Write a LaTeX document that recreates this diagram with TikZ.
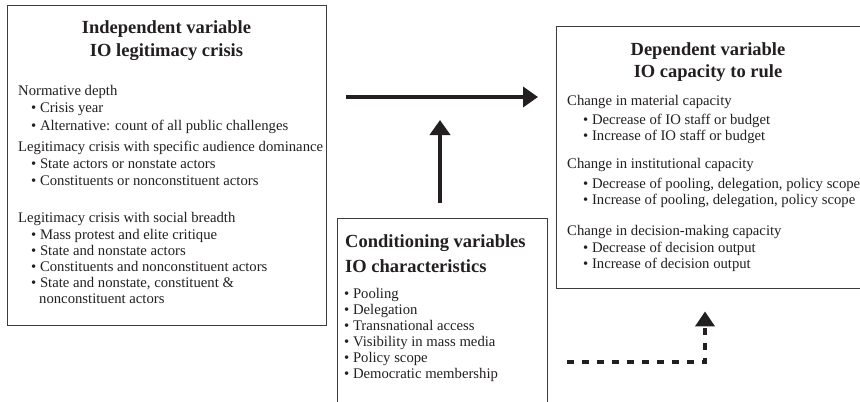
\documentclass[tikz,border=0pt]{standalone}
\usepackage{fontspec}
\setmainfont{Liberation Serif}
\usetikzlibrary{arrows.meta}
\definecolor{boxc}{HTML}{3C3C3C}
\definecolor{ink}{HTML}{231F20}
\begin{document}
\begin{tikzpicture}[x=1bp,y=-1bp,
  box/.style={draw=boxc,line width=1.4bp,inner sep=0pt,anchor=north west},
  hd/.style={font=\fontsize{18.5bp}{22bp}\selectfont\bfseries,anchor=base,inner sep=0pt,text=ink},
  hdl/.style={hd,anchor=base west},
  tx/.style={font=\fontsize{14.7bp}{17bp}\selectfont,anchor=base west,inner sep=0pt,text=ink},
  arr/.style={draw=ink,line width=4bp,-{Triangle[length=15bp,width=20bp]}},
  darr/.style={draw=ink,line width=4.5bp,dash pattern=on 7bp off 8bp,-{Triangle[length=15bp,width=19bp]}},
]
\useasboundingbox (0,0) rectangle (860,401);
% boxes
\node[box,minimum width=319bp,minimum height=320bp] (indep) at (7,5) {};
\node[box,minimum width=320bp,minimum height=262bp] (dep) at (556,26) {};
\node[box,minimum width=210bp,minimum height=200bp] (cond) at (337,218) {};
% left box text
\node[hd] (l1) at (166.5,33) {Independent variable};
\node[hd] (l2) at (166.5,56) {IO legitimacy crisis};
\node[tx] (l3) at (18,95) {Normative depth};
\node[tx] (l4) at (31,112.5) {• Crisis year};
\node[tx] (l5) at (31,130) {• Alternative: count of all public challenges};
\node[tx] (l6) at (18,151) {Legitimacy crisis with specific audience dominance};
\node[tx] (l7) at (31,168) {• State actors or nonstate actors};
\node[tx] (l8) at (31,185) {• Constituents or nonconstituent actors};
\node[tx] (l9) at (18,222) {Legitimacy crisis with social breadth};
\node[tx] (l10) at (31,239) {• Mass protest and elite critique};
\node[tx] (l11) at (31,255) {• State and nonstate actors};
\node[tx] (l12) at (31,271) {• Constituents and nonconstituent actors};
\node[tx] (l13) at (31,287) {• State and nonstate, constituent \&};
\node[tx] (l14) at (39,303) {nonconstituent actors};
% right box text
\node[hd] (r1) at (708,55) {Dependent variable};
\node[hd] (r2) at (708,77) {IO capacity to rule};
\node[tx] (r3) at (567,105) {Change in material capacity};
\node[tx] (r4) at (583,124) {• Decrease of IO staff or budget};
\node[tx] (r5) at (583,140) {• Increase of IO staff or budget};
\node[tx] (r6) at (567,168) {Change in institutional capacity};
\node[tx] (r7) at (583,188) {• Decrease of pooling, delegation, policy scope};
\node[tx] (r8) at (583,204) {• Increase of pooling, delegation, policy scope};
\node[tx] (r9) at (567,235) {Change in decision-making capacity};
\node[tx] (r10) at (583,252) {• Decrease of decision output};
\node[tx] (r11) at (583,268) {• Increase of decision output};
% middle box text
\node[hdl] (c1) at (345,247) {Conditioning variables};
\node[hdl] (c2) at (345,272) {IO characteristics};
\node[tx] (c3) at (344,298) {• Pooling};
\node[tx] (c4) at (344,314) {• Delegation};
\node[tx] (c5) at (344,330) {• Transnational access};
\node[tx] (c6) at (344,346) {• Visibility in mass media};
\node[tx] (c7) at (344,362) {• Policy scope};
\node[tx] (c8) at (344,378) {• Democratic membership};
% connectors
\coordinate (hy) at (0,97);
\draw[arr,shorten <=19bp,shorten >=18bp] (indep.east |- hy) -- (dep.west |- hy);
\coordinate (vx) at (440,0);
\coordinate (vt) at (0,120);
\draw[arr,shorten <=15bp] (cond.north -| vx) -- (vx |- vt);
\coordinate (ds) at (567,362);
\coordinate (dx) at (705,0);
\draw[darr,shorten >=22bp] (ds) -| (dep.south -| dx);
\end{tikzpicture}
\end{document}
